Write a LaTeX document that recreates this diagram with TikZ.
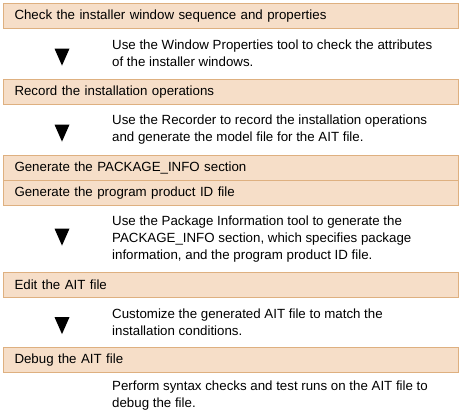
\documentclass[tikz,border=0pt]{standalone}
\usepackage{fontspec}
\setmainfont{Liberation Sans}
\usetikzlibrary{shapes.geometric, positioning}
\definecolor{stepfill}{RGB}{246,222,200}
\definecolor{stepline}{RGB}{222,176,128}
\tikzset{
  stepbox/.style={draw=stepline, fill=stepfill, line width=1pt,
    anchor=north west, minimum height=25pt, text width=433pt,
    inner xsep=11pt, inner ysep=0pt, align=left, font=\fontsize{13.3}{15}\selectfont},
  downtri/.style={isosceles triangle, isosceles triangle stretches,
    shape border rotate=270, fill=black, inner sep=0pt,
    minimum width=15pt, minimum height=17pt},
  desc/.style={anchor=west, align=left, inner sep=0pt,
    font=\fontsize{13.3}{17}\selectfont}
}
\begin{document}
\begin{tikzpicture}[x=1pt,y=1pt]
  \useasboundingbox (0,0) rectangle (461,-418);
  % steps
  \node[stepbox] (check) at (3,-3) {Check the installer window sequence and properties};
  \node[stepbox] (record) at (3,-79) {Record the installation operations};
  \node[stepbox] (pkginfo) at (3,-155) {Generate the PACKAGE\_INFO section};
  \node[stepbox] (prodid) at (3,-180) {Generate the program product ID file};
  \node[stepbox] (edit) at (3,-272) {Edit the AIT file};
  \node[stepbox] (debug) at (3,-347) {Debug the AIT file};
  % arrows between steps
  \node[downtri] (tri1) at (62,-53.5) {};
  \node[downtri] (tri2) at (62,-129.5) {};
  \node[downtri] (tri3) at (62,-233.5) {};
  \node[downtri] (tri4) at (62,-322) {};
  % descriptions
  \node[desc] (winprops) at (112,-53.5)
    {Use the Window Properties tool to check the attributes\\of the installer windows.};
  \node[desc] (recorder) at (112,-129.5)
    {Use the Recorder to record the installation operations\\and generate the model file for the AIT file.};
  \node[desc] (pkgtool) at (112,-239)
    {Use the Package Information tool to generate the\\PACKAGE\_INFO section, which specifies package\\information, and the program product ID file.};
  \node[desc] (custom) at (112,-322)
    {Customize the generated AIT file to match the\\installation conditions.};
  \node[desc] (syntax) at (112,-396)
    {Perform syntax checks and test runs on the AIT file to\\debug the file.};
\end{tikzpicture}
\end{document}
